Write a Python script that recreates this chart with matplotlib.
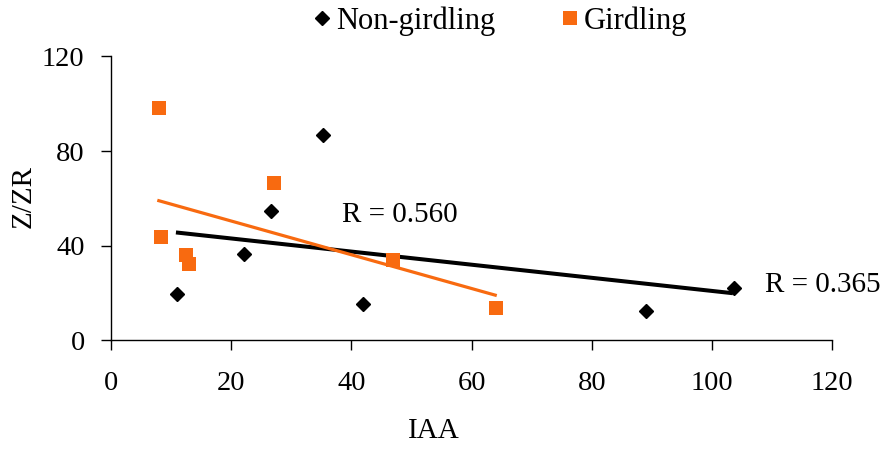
import matplotlib
matplotlib.use("Agg")
import matplotlib.pyplot as plt

# Data
non_girdling_iaa = [11.0, 22.1, 26.6, 35.2, 41.9, 89.0, 103.7]
non_girdling_zzr = [19.6, 36.4, 54.8, 86.6, 15.3, 12.4, 21.9]
girdling_iaa = [7.9, 8.3, 12.4, 12.9, 27.2, 47.0, 64.0]
girdling_zzr = [98.0, 43.6, 36.1, 32.3, 66.4, 34.0, 13.6]

# Trend line endpoints (as drawn in the reference)
non_girdling_trend_x = [10.8, 103.5]
non_girdling_trend_y = [45.6, 19.9]
girdling_trend_x = [7.7, 64.2]
girdling_trend_y = [59.2, 18.9]

x_ticks = [0, 20, 40, 60, 80, 100, 120]
y_ticks = [0, 40, 80, 120]

orange = "#F86A10"

plt.rcParams['font.family'] = ['Liberation Serif', 'DejaVu Serif']

fig = plt.figure(figsize=(8.89, 4.51), dpi=100)
ax = fig.add_axes([0.1249, 0.2455, 0.811, 0.6293])

ax.plot(non_girdling_trend_x, non_girdling_trend_y, color="black", lw=2.9,
        solid_capstyle="butt", zorder=2)
ax.plot(girdling_trend_x, girdling_trend_y, color=orange, lw=2.3,
        solid_capstyle="butt", zorder=2)

ax.plot(non_girdling_iaa, non_girdling_zzr, linestyle="none", marker="D",
        markersize=7.6, color="black", label="Non-girdling", zorder=3)
ax.plot(girdling_iaa, girdling_zzr, linestyle="none", marker="s",
        markersize=10.6, color=orange, markeredgewidth=0, label="Girdling", zorder=3)

ax.set_xlim(0, 120)
ax.set_ylim(0, 120)
ax.set_xticks(x_ticks)
ax.set_yticks(y_ticks)
ax.spines['top'].set_visible(False)
ax.spines['right'].set_visible(False)
for s in ('left', 'bottom'):
    ax.spines[s].set_linewidth(1.0)
ax.tick_params(axis='both', direction='out', length=7, width=1.0,
               labelsize=20.5, colors='black')
ax.tick_params(axis='x', pad=15)
ax.tick_params(axis='y', pad=12)

ax.set_xlabel("IAA", fontsize=21, va="center")
ax.xaxis.set_label_coords(0.448, -0.32)
ax.set_ylabel("Z/ZR", fontsize=21, va="center")
ax.yaxis.set_label_coords(-0.121, 0.508)

ax.text(341.7, 451 - 215, "R = 0.560", transform=None, fontsize=21,
        va="center", ha="left")
ax.text(765, 451 - 285, "R = 0.365", fontsize=21, va="center", ha="left",
        transform=None)

fig.legend(loc="center", bbox_to_anchor=(0.5626, 0.953), ncol=2, frameon=False,
           fontsize=22, handlelength=0.6, handletextpad=0.165,
           columnspacing=2.12, markerscale=0.92, borderpad=0, borderaxespad=0)

fig.savefig("out.png", dpi=100)
